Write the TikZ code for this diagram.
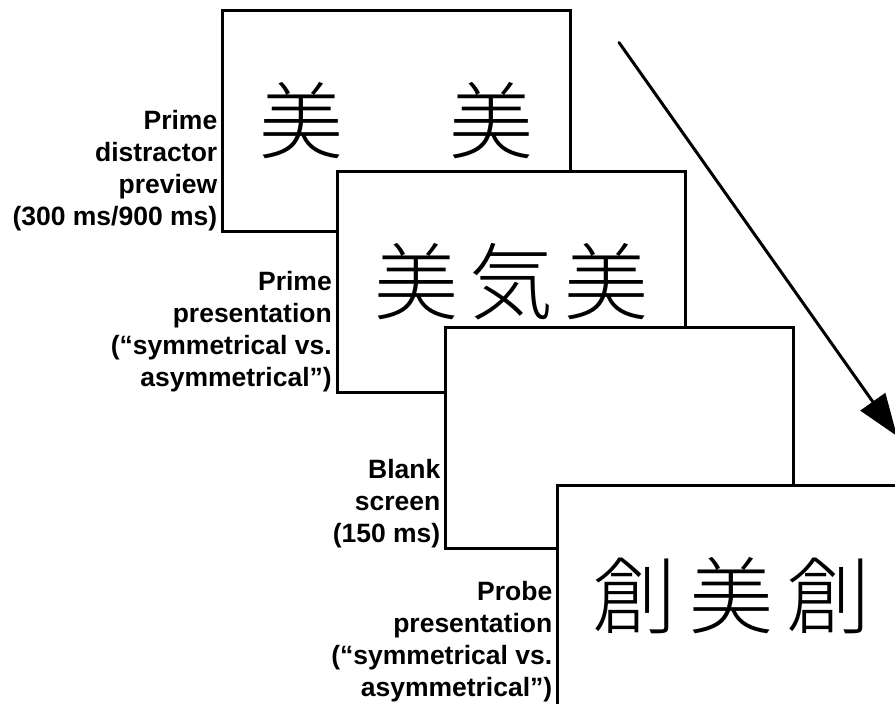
\documentclass[tikz,border=0pt]{standalone}
\usepackage{fontspec}
\setmainfont{Liberation Sans}
% thin strokes for the characters on the screens, if a light face is there
\IfFontExistsTF{Noto Sans CJK JP Light}
  {\newfontfamily\cjk{Noto Sans CJK JP Light}}
  {\newfontfamily\cjk{Noto Sans CJK JP}}
\usetikzlibrary{arrows.meta}
\begin{document}
\begin{tikzpicture}[x=1pt,y=-1pt,
  screen/.style={draw, line width=3pt, fill=white, minimum width=348pt,
    minimum height=221pt, inner sep=0pt, outer sep=0pt},
  lbl/.style={align=right, inner sep=0pt, anchor=south east,
    font=\fontsize{26.5}{32}\selectfont\bfseries},
  glyph/.style={inner sep=0pt, font=\fontsize{84}{84}\selectfont\cjk},
  timeline/.style={line width=3pt, line cap=round,
    -{Triangle[length=42pt,width=30pt]}}]
\useasboundingbox (0,0) rectangle (895,704);
\clip (0,0) rectangle (895,704);

% screens, each one drawn over the previous
\node[screen] (s1) at (396.5,120.5) {};
\node[glyph] (s1a) at ([xshift=-95pt]s1.center) {美};
\node[glyph] (s1b) at ([xshift=95pt]s1.center) {美};

\node[screen] (s2) at (511,282) {};
\node[glyph] (s2a) at ([xshift=-95pt]s2.center) {美};
\node[glyph] (s2b) at (s2.center) {気};
\node[glyph] (s2c) at ([xshift=95pt]s2.center) {美};

\node[screen] (s3) at (619.5,438) {};

\node[screen] (s4) at (731.5,595.5) {};
\node[glyph] (s4a) at ([xshift=-97pt]s4.center) {創};
\node[glyph] (s4b) at (s4.center) {美};
\node[glyph] (s4c) at ([xshift=97pt]s4.center) {創};

% labels beside each screen
\node[lbl] (l1) at ([xshift=-5pt]s1.south west)
  {Prime\\distractor\\preview\\(300 ms/900 ms)};
\node[lbl] (l2) at ([xshift=-5pt]s2.south west)
  {Prime\\presentation\\(“symmetrical vs.\\asymmetrical”)};
\node[lbl] (l3) at ([xshift=-5pt]s3.south west)
  {Blank\\screen\\(150 ms)};
\node[lbl] (l4) at ([xshift=-5pt,yshift=4pt]s4.south west)
  {Probe\\presentation\\(“symmetrical vs.\\asymmetrical”)};

% time arrow
\coordinate (t0) at (619,42.5);
\coordinate (t1) at (897,436);
\draw[timeline] (t0) -- (t1);
\end{tikzpicture}
\end{document}
